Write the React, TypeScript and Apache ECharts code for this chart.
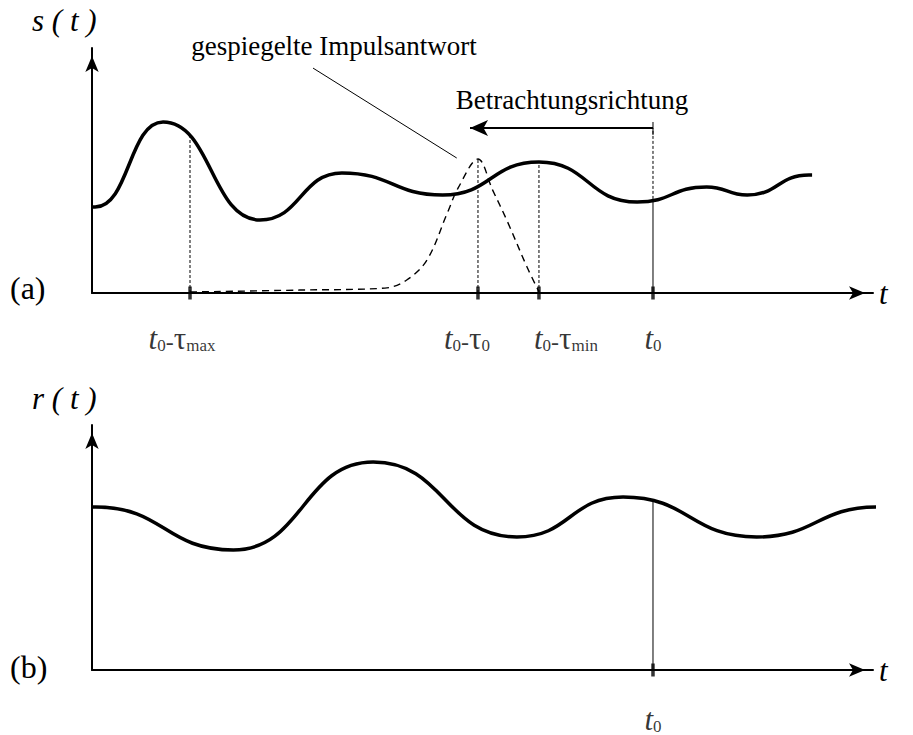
import React, { useEffect, useRef } from "react";
import * as echarts from "echarts";

// Time axis runs 0..100, amplitude axis 0..100 in both panels.
const T0 = 71.83;
const tickTimes = [12.55, 49.42, 57.23, T0];
const tickSubs = ["max", "0", "min", ""]; // subscript of τ; empty means plain t0
const tickLabelShift = [-8, -11, 27, 0];

// s(t): received signal, given by its turning points
const sTime = [0, 9.1, 21.5, 32.0, 44.9, 57.23, 69.8, 78.7, 83.9, 92.2];
const sValue = [35.1, 69.8, 29.8, 49.0, 40.0, 53.5, 37.1, 43.3, 40.0, 48.2];

// where the guide lines meet s(t)
const sAtTauMax = 64.0;
const sAtT0 = 38.4;

// mirrored impulse response (dashed)
const hTime = [12.55, 26.6, 37.5, 40.3, 42.9, 45.5, 46.9, 49.42, 51.3, 53.1, 55.7, 57.23];
const hValue = [0.4, 1.2, 2.0, 5.3, 13.5, 32.7, 43.0, 54.7, 42.0, 29.8, 10.6, 0.5];

// r(t): filter output, given by its turning points
const rTime = [0.1, 18.1, 36.0, 54.4, 68.0, 85.1, 100.9];
const rValue = [66.5, 49.0, 84.9, 54.3, 70.6, 54.3, 66.5];
const rAtT0 = 68.6;

// viewing-direction arrow and leader line to the impulse response
const arrowLevel = 67.3;
const arrowEnd = 48.4;
const arrowBar = [64.5, 69.8];
const leader = [[28.3, 91.8], [46.7, 55.1]];

const SERIF = "Liberation Serif";

const zip = (xs: number[], ys: number[]) => xs.map((x, i) => [x, ys[i]]);
const valueAt = (xs: number[], ys: number[], x: number) => ys[xs.indexOf(x)];

export default function App() {
  const ref = useRef<HTMLDivElement>(null);

  useEffect(() => {
    if (!ref.current) return;
    const chart = echarts.init(ref.current, null, { renderer: "svg" });

    const axisLine = {
      show: true,
      symbol: ["none", "arrow"],
      symbolSize: [10, 16],
      symbolOffset: [0, -8],
      lineStyle: { color: "#000", width: 2 },
    };
    const xAxisBase = {
      type: "value",
      min: 0,
      max: 100,
      axisLine,
      axisTick: { show: false },
      axisLabel: { show: false },
      splitLine: { show: false },
      name: "t",
      nameLocation: "end",
      nameGap: 6,
      nameTextStyle: { fontFamily: SERIF, fontStyle: "italic", fontSize: 31, color: "#000", verticalAlign: "middle" },
    };
    const yAxisBase = {
      type: "value",
      min: 0,
      max: 100,
      axisLine,
      axisTick: { show: false },
      axisLabel: { show: false },
      splitLine: { show: false },
    };

    const rich = {
      t: { fontFamily: SERIF, fontStyle: "italic", fontSize: 31, lineHeight: 30, color: "#000", verticalAlign: "bottom" },
      tau: { fontFamily: SERIF, fontSize: 31, lineHeight: 30, color: "#000", verticalAlign: "bottom" },
      d: { fontFamily: SERIF, fontSize: 24, lineHeight: 30, color: "#000", verticalAlign: "bottom" },
      z: { fontFamily: SERIF, fontSize: 17, lineHeight: 10, color: "#000", verticalAlign: "bottom" },
    };
    const tickFormatter = (p: any) =>
      p.data.sub ? `{t|t}{z|0}{d|-}{tau|τ}{z|${p.data.sub}}` : `{t|t}{z|0}`;

    const tickSeries = (idx: number, times: number[], subs: string[], shifts: number[], gap: number) => ({
      type: "scatter",
      xAxisIndex: idx,
      yAxisIndex: idx,
      symbol: "rect",
      symbolSize: [3.5, 13],
      itemStyle: { color: "#000" },
      clip: false,
      z: 5,
      label: {
        show: true,
        position: "bottom",
        distance: gap,
        formatter: tickFormatter,
        rich,
      },
      data: times.map((t, i) => ({ value: [t, 0], sub: subs[i], label: { offset: [shifts[i], 0] } })),
    });

    const guide = (idx: number, x: number, y0: number, y1: number, dotted: boolean) => ({
      type: "line",
      xAxisIndex: idx,
      yAxisIndex: idx,
      symbol: "none",
      lineStyle: { color: "#000", width: 1, type: dotted ? [3, 2] : "solid" },
      data: [[x, y0], [x, y1]],
      z: 2,
    });

    // Smooth wave through its turning points; each inner point gets a flat tangent.
    // A short flat lead-in/lead-out keeps the two ends flat as well.
    const LEAD = 0.4;
    const wave = (idx: number, xs: number[], ys: number[]) => {
      const n = xs.length;
      const data = [
        [xs[0], ys[0]],
        [xs[0] + LEAD, ys[0]],
        ...zip(xs, ys).slice(1, n - 1),
        [xs[n - 1] - LEAD, ys[n - 1]],
        [xs[n - 1], ys[n - 1]],
      ];
      return {
        type: "line",
        xAxisIndex: idx,
        yAxisIndex: idx,
        smooth: 0.5,
        smoothMonotone: "x",
        symbol: "none",
        clip: false,
        lineStyle: { color: "#000", width: 3.5 },
        data,
        z: 3,
      };
    };

    const textStyle = (size: number, italic = false) => ({
      fontFamily: SERIF,
      fontSize: size,
      fontStyle: italic ? "italic" : "normal",
      fill: "#000",
    });

    chart.setOption({
      animation: false,
      backgroundColor: "#fff",
      grid: [
        { left: 92, top: 48, width: 781, height: 245 },
        { left: 92, top: 425, width: 781, height: 245 },
      ],
      xAxis: [
        { ...xAxisBase, gridIndex: 0 },
        { ...xAxisBase, gridIndex: 1 },
      ],
      yAxis: [
        { ...yAxisBase, gridIndex: 0 },
        { ...yAxisBase, gridIndex: 1 },
      ],
      series: [
        wave(0, sTime, sValue),
        {
          type: "line",
          xAxisIndex: 0,
          yAxisIndex: 0,
          smooth: 0.35,
          symbol: "none",
          lineStyle: { color: "#000", width: 1.4, type: [7, 5] },
          data: zip(hTime, hValue),
          z: 3,
        },
        guide(0, tickTimes[0], 0, sAtTauMax, true),
        guide(0, tickTimes[1], 0, valueAt(hTime, hValue, tickTimes[1]), true),
        guide(0, tickTimes[2], 0, valueAt(sTime, sValue, tickTimes[2]), true),
        guide(0, T0, 0, sAtT0, false),
        guide(0, T0, sAtT0, arrowLevel, true),
        guide(0, T0, arrowBar[0], arrowBar[1], false),
        {
          type: "line",
          xAxisIndex: 0,
          yAxisIndex: 0,
          symbol: "none",
          lineStyle: { color: "#000", width: 1 },
          data: leader,
        },
        {
          type: "line",
          xAxisIndex: 0,
          yAxisIndex: 0,
          symbol: "none",
          data: [],
          markLine: {
            silent: true,
            symbol: ["none", "arrow"],
            symbolSize: [12, 18],
            label: { show: false },
            lineStyle: { color: "#000", width: 2, type: "solid" },
            data: [[{ coord: [T0, arrowLevel] }, { coord: [arrowEnd, arrowLevel] }]],
          },
        },
        tickSeries(0, tickTimes, tickSubs, tickLabelShift, 24),
        wave(1, rTime, rValue),
        guide(1, T0, 0, rAtT0, false),
        tickSeries(1, [T0], [""], [0], 28),
      ],
      graphic: [
        { type: "text", left: 32, top: 5, style: { text: "s ( t )", ...textStyle(31, true) } },
        { type: "text", left: 32, top: 383, style: { text: "r ( t )", ...textStyle(31, true) } },
        { type: "text", left: 10, top: 272, style: { text: "(a)", ...textStyle(32) } },
        { type: "text", left: 10, top: 651, style: { text: "(b)", ...textStyle(32) } },
        {
          type: "text",
          x: 334,
          y: 46,
          style: { text: "gespiegelte Impulsantwort", ...textStyle(27), align: "center", verticalAlign: "middle" },
        },
        {
          type: "text",
          x: 572,
          y: 100,
          style: { text: "Betrachtungsrichtung", ...textStyle(27), align: "center", verticalAlign: "middle" },
        },
      ],
    });

    return () => chart.dispose();
  }, []);

  return (
    <div
      ref={ref}
      style={{ position: "fixed", left: 0, top: 0, width: 913, height: 735, background: "#fff" }}
    />
  );
}
